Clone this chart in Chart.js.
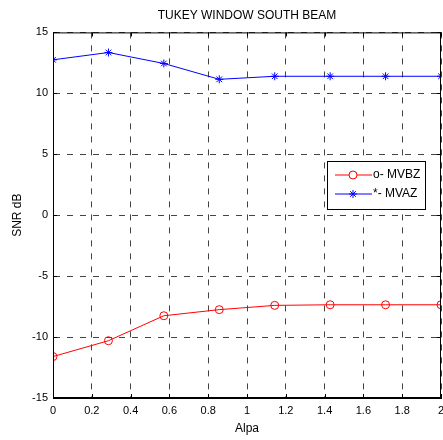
<!DOCTYPE html>
<html>
<head>
<meta charset="utf-8">
<script src="https://cdn.jsdelivr.net/npm/chart.js"></script>
<style>
  html, body { margin: 0; padding: 0; background: #fff; }
  #wrap { width: 443px; height: 440px; }
</style>
</head>
<body>
<div id="wrap"><canvas id="chart" width="443" height="440"></canvas></div>
<script>
// values
const alpha = [0, 0.2857, 0.5714, 0.8571, 1.1429, 1.4286, 1.7143, 2];
const mvbz = [-11.6, -10.3, -8.25, -7.75, -7.4, -7.35, -7.35, -7.35];
const mvaz = [12.75, 13.35, 12.45, 11.15, 11.4, 11.4, 11.4, 11.4];
const xTicks = [0, 0.2, 0.4, 0.6, 0.8, 1, 1.2, 1.4, 1.6, 1.8, 2];
const yTicks = [-15, -10, -5, 0, 5, 10, 15];
const seriesNames = ["o- MVBZ", "*- MVAZ"];

const FONT = "'Liberation Sans', Arial, sans-serif";

// box, inward ticks and legend, matlab style
const matlabAxes = {
    id: "matlabAxes",
    afterDraw(chart) {
        const ctx = chart.ctx;
        const a = chart.chartArea;
        const xs = chart.scales.x, ys = chart.scales.y;
        ctx.save();
        ctx.strokeStyle = "#000";
        ctx.lineWidth = 1;
        ctx.setLineDash([]);
        ctx.strokeRect(a.left + 0.5, a.top + 0.5, a.right - a.left - 1, a.bottom - a.top - 1);

        ctx.beginPath();
        xTicks.forEach(v => {
            const px = Math.round(xs.getPixelForValue(v)) + 0.5;
            ctx.moveTo(px, a.bottom); ctx.lineTo(px, a.bottom - 4);
            ctx.moveTo(px, a.top); ctx.lineTo(px, a.top + 4);
        });
        yTicks.forEach(v => {
            const py = Math.round(ys.getPixelForValue(v)) + 0.5;
            ctx.moveTo(a.left, py); ctx.lineTo(a.left + 4, py);
            ctx.moveTo(a.right, py); ctx.lineTo(a.right - 4, py);
        });
        ctx.stroke();

        // legend
        const lx = 327, ly = 161, lw = 98, lh = 48;
        ctx.fillStyle = "#fff";
        ctx.fillRect(lx, ly, lw, lh);
        ctx.strokeRect(lx + 0.5, ly + 0.5, lw, lh);
        ctx.font = "12px " + FONT;
        ctx.textBaseline = "middle";
        chart.data.datasets.forEach((ds, i) => {
            const y = ly + 14 + i * 19;
            ctx.strokeStyle = ds.borderColor;
            ctx.beginPath();
            ctx.moveTo(lx + 8, y); ctx.lineTo(lx + 45, y);
            ctx.stroke();
            Chart.helpers.drawPoint(ctx, {
                pointStyle: ds.pointStyle, radius: 4, borderWidth: 1
            }, lx + 26, y);
            ctx.fillStyle = "#000";
            ctx.fillText(seriesNames[i], lx + 46, y);
        });
        ctx.restore();
    }
};

new Chart(document.getElementById("chart"), {
    type: "line",
    data: {
        datasets: [
            {
                label: seriesNames[0],
                data: alpha.map((x, i) => ({ x: x, y: mvbz[i] })),
                borderColor: "#ff0000",
                backgroundColor: "rgba(0,0,0,0)",
                borderWidth: 1,
                pointStyle: "circle",
                pointRadius: 4,
                pointBorderWidth: 1,
                tension: 0
            },
            {
                label: seriesNames[1],
                data: alpha.map((x, i) => ({ x: x, y: mvaz[i] })),
                borderColor: "#0000ff",
                backgroundColor: "#0000ff",
                borderWidth: 1,
                pointStyle: "star",
                pointRadius: 4,
                pointBorderWidth: 1,
                tension: 0
            }
        ]
    },
    options: {
        responsive: false,
        animation: false,
        layout: { autoPadding: false, padding: { left: 0, right: 2, top: 0, bottom: 0 } },
        plugins: {
            legend: { display: false },
            tooltip: { enabled: false },
            title: {
                display: true,
                text: "TUKEY WINDOW SOUTH BEAM",
                fullSize: false,
                color: "#000",
                font: { family: FONT, size: 12, weight: "normal" },
                padding: { top: 8, bottom: 10 }
            }
        },
        scales: {
            x: {
                type: "linear",
                min: 0, max: 2,
                afterBuildTicks: s => { s.ticks = xTicks.map(v => ({ value: v })); },
                afterFit: s => { s.height = 42; s.paddingLeft = 0; s.paddingRight = 0; },
                ticks: {
                    color: "#000",
                    font: { family: FONT, size: 11 },
                    padding: 6,
                    maxRotation: 0,
                    autoSkip: false,
                    callback: v => String(+v.toFixed(1))
                },
                grid: { color: "#444", lineWidth: 1, drawTicks: false },
                border: { display: true, color: "#000", dash: [6, 7] },
                title: {
                    display: true, text: "Alpa", color: "#000",
                    font: { family: FONT, size: 12 },
                    padding: { top: 0, bottom: 4 }
                }
            },
            y: {
                type: "linear",
                min: -15, max: 15,
                afterBuildTicks: s => { s.ticks = yTicks.map(v => ({ value: v })); },
                afterFit: s => { s.width = 53; },
                ticks: {
                    color: "#000",
                    font: { family: FONT, size: 11 },
                    padding: 5,
                    autoSkip: false,
                    callback: v => String(v)
                },
                grid: { color: "#444", lineWidth: 1, drawTicks: false },
                border: { display: true, color: "#000", dash: [6, 7] },
                title: {
                    display: true, text: "SNR dB", color: "#000",
                    font: { family: FONT, size: 12 },
                    padding: { top: 10, bottom: 0 }
                }
            }
        }
    },
    plugins: [matlabAxes]
});
</script>
</body>
</html>
